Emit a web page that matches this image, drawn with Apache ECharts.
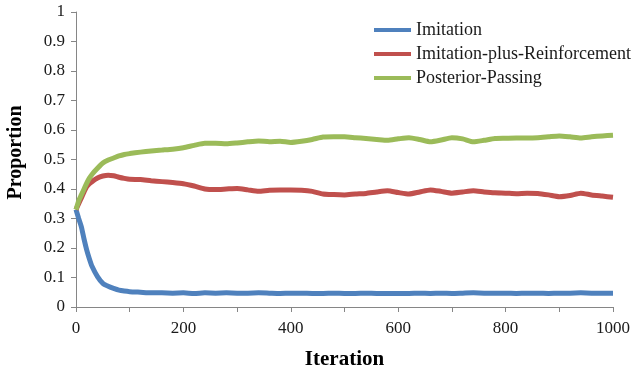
<!DOCTYPE html>
<html>
<head>
<meta charset="utf-8">
<script src="https://cdn.jsdelivr.net/npm/echarts@6/dist/echarts.min.js"></script>
<style>
  html, body { margin: 0; padding: 0; background: #fff; }
  #main { width: 635px; height: 370px; }
</style>
</head>
<body>
<div id="main"></div>
<script>
// iteration sample points
const iterations = [0, 5, 10, 15, 20, 25, 30, 40, 50, 60, 70, 80, 90, 100, 120, 140, 160, 180, 200,
  220, 240, 260, 280, 300, 320, 340, 360, 380, 400, 420, 440, 460, 480, 500, 520, 540, 560, 580, 600,
  620, 640, 660, 680, 700, 720, 740, 760, 780, 800, 820, 840, 860, 880, 900, 920, 940, 960, 980, 1000];

const imitation = [0.33, 0.30, 0.272, 0.23, 0.193, 0.163, 0.137, 0.103, 0.08, 0.07, 0.063, 0.057, 0.054, 0.052, 0.05, 0.048, 0.048, 0.047, 0.048,
  0.046, 0.048, 0.047, 0.048, 0.047, 0.047, 0.048, 0.047, 0.046, 0.047, 0.047, 0.046, 0.046, 0.047, 0.046, 0.046, 0.047, 0.046, 0.046, 0.046,
  0.046, 0.047, 0.046, 0.047, 0.046, 0.047, 0.048, 0.047, 0.047, 0.047, 0.046, 0.047, 0.047, 0.046, 0.047, 0.047, 0.048, 0.047, 0.047, 0.047];

const imitationPlus = [0.33, 0.35, 0.37, 0.39, 0.408, 0.418, 0.425, 0.437, 0.444, 0.447, 0.445, 0.44, 0.436, 0.433, 0.432, 0.428, 0.425, 0.422, 0.418,
  0.41, 0.4, 0.398, 0.4, 0.402, 0.397, 0.392, 0.396, 0.397, 0.397, 0.396, 0.392, 0.383, 0.381, 0.38, 0.383, 0.385, 0.39, 0.394, 0.388,
  0.383, 0.39, 0.397, 0.392, 0.386, 0.39, 0.394, 0.39, 0.387, 0.386, 0.384, 0.386, 0.385, 0.38, 0.374, 0.378, 0.386, 0.38, 0.376, 0.372];

const posterior = [0.33, 0.36, 0.38, 0.40, 0.42, 0.437, 0.45, 0.47, 0.488, 0.498, 0.505, 0.512, 0.517, 0.52, 0.525, 0.529, 0.532, 0.535, 0.54,
  0.548, 0.555, 0.555, 0.553, 0.556, 0.56, 0.563, 0.56, 0.562, 0.558, 0.562, 0.568, 0.576, 0.577, 0.577, 0.574, 0.571, 0.568, 0.565, 0.57,
  0.574, 0.568, 0.56, 0.566, 0.574, 0.57, 0.56, 0.565, 0.571, 0.572, 0.573, 0.573, 0.574, 0.577, 0.58, 0.577, 0.573, 0.577, 0.58, 0.582];

const seriesNames = ['Imitation', 'Imitation-plus-Reinforcement', 'Posterior-Passing'];
const colors = ['#4F81BD', '#C0504D', '#9BBB59'];

const font = '"Liberation Serif", "Times New Roman", serif';
const axisGray = '#868686';

function pairs(values) {
  return iterations.map((it, i) => [it, values[i]]);
}

const myChart = echarts.init(document.getElementById('main'));

const option = {
  animation: false,
  color: colors,
  grid: { left: 76, right: 22, top: 12, bottom: 63, outerBoundsMode: 'none' },
  legend: {
    orient: 'vertical',
    left: 369,
    top: 16,
    icon: 'rect',
    itemWidth: 37,
    itemHeight: 4,
    itemGap: 6,
    textStyle: { fontFamily: font, fontSize: 18, color: '#1a1a1a' },
    data: seriesNames,
  },
  xAxis: {
    type: 'value',
    min: 0,
    max: 1000,
    interval: 100,
    name: 'Iteration',
    nameLocation: 'middle',
    nameGap: 42,
    nameTextStyle: { fontFamily: font, fontSize: 21, fontWeight: 'bold', color: '#000' },
    axisLine: { lineStyle: { color: axisGray } },
    axisTick: { length: 5, lineStyle: { color: axisGray } },
    splitLine: { show: false },
    axisLabel: {
      margin: 13,
      fontFamily: font,
      fontSize: 17,
      color: '#1a1a1a',
      formatter: function (value) {
        return value % 200 === 0 ? String(value) : '';
      },
    },
  },
  yAxis: {
    type: 'value',
    min: 0,
    max: 1,
    interval: 0.1,
    name: 'Proportion',
    nameLocation: 'middle',
    nameGap: 50,
    nameTextStyle: {
      fontFamily: font, fontSize: 20, fontWeight: 'bold', color: '#000',
      padding: [0, 0, 0, 14],
    },
    axisLine: { show: true, lineStyle: { color: axisGray } },
    axisTick: { show: true, length: 5, lineStyle: { color: axisGray } },
    splitLine: { show: false },
    axisLabel: { margin: 11, fontFamily: font, fontSize: 17, color: '#1a1a1a' },
  },
  series: seriesNames.map((name, i) => ({
    name: name,
    type: 'line',
    showSymbol: false,
    symbol: 'none',
    smooth: 0.2,
    lineStyle: { width: 5, color: colors[i] },
    data: pairs([imitation, imitationPlus, posterior][i]),
  })),
};

myChart.setOption(option);
</script>
</body>
</html>
